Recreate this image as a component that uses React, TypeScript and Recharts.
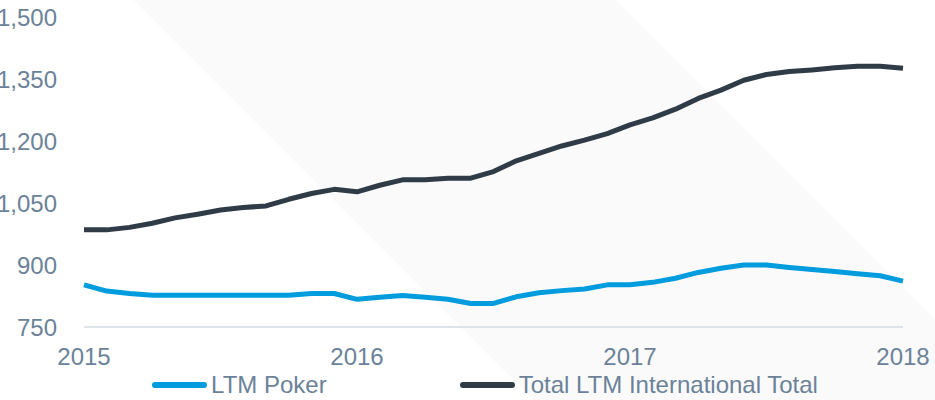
import React from 'react';
import { LineChart, Line, XAxis, YAxis, Legend } from 'recharts';

const MONTHS = [
  '2015-01', '2015-02', '2015-03', '2015-04', '2015-05', '2015-06', '2015-07', '2015-08', '2015-09', '2015-10', '2015-11', '2015-12',
  '2016-01', '2016-02', '2016-03', '2016-04', '2016-05', '2016-06', '2016-07', '2016-08', '2016-09', '2016-10', '2016-11', '2016-12',
  '2017-01', '2017-02', '2017-03', '2017-04', '2017-05', '2017-06', '2017-07', '2017-08', '2017-09', '2017-10', '2017-11', '2017-12',
  '2018-01',
];

const LTM_POKER = [
  852, 837, 831, 827, 827, 827, 827, 827, 827, 827, 831, 831,
  817, 822, 826, 822, 817, 807, 807, 823, 833, 838, 842, 852,
  852, 858, 868, 882, 892, 900, 900, 894, 889, 884, 879, 874,
  861,
];

const TOTAL_INTL = [
  985, 985, 991, 1001, 1014, 1023, 1033, 1039, 1043, 1059, 1073, 1083,
  1077, 1093, 1106, 1106, 1110, 1110, 1126, 1152, 1170, 1188, 1202, 1218,
  1239, 1256, 1277, 1303, 1323, 1347, 1361, 1368, 1372, 1377, 1381, 1381,
  1376,
];

const X_TICKS = ['2015-01', '2016-01', '2017-01', '2018-01'];
const Y_TICKS = [750, 900, 1050, 1200, 1350, 1500];

const SERIES = [
  { key: 'poker', name: 'LTM Poker', color: '#009cde' },
  { key: 'total', name: 'Total LTM International Total', color: '#2f3c48' },
];

const data = MONTHS.map((m, i) => ({ month: m, poker: LTM_POKER[i], total: TOTAL_INTL[i] }));

const FONT = '"Liberation Sans", Arial, sans-serif';
const TEXT = '#6b8299';

const renderLegend = () => (
  <div
    style={{
      display: 'flex',
      justifyContent: 'center',
      alignItems: 'center',
      height: 28,
      paddingLeft: 34,
      gap: 132,
      fontFamily: FONT,
      fontSize: 24,
      color: TEXT,
      whiteSpace: 'nowrap',
    }}
  >
    {SERIES.map((s) => (
      <div key={s.key} style={{ display: 'flex', alignItems: 'center' }}>
        <svg width={57} height={10}>
          <line x1={4} x2={53} y1={5} y2={5} stroke={s.color} strokeWidth={6} strokeLinecap="round" />
        </svg>
        <span style={{ marginLeft: 3 }}>{s.name}</span>
      </div>
    ))}
  </div>
);

export default function App() {
  return (
    <div
      style={{
        position: 'absolute',
        left: 0,
        top: 0,
        width: 935,
        height: 400,
        overflow: 'hidden',
        background:
          'linear-gradient(45deg, #ffffff 377px, #fafafa 377px, #fafafa 718px, #ffffff 718px)',
      }}
    >
      <LineChart width={935} height={400} data={data} margin={{ top: 17, right: 32, bottom: 1, left: 0 }}>
        <XAxis
          dataKey="month"
          ticks={X_TICKS}
          tickFormatter={(v: string) => v.slice(0, 4)}
          interval={0}
          height={44}
          tickSize={0}
          tickMargin={21}
          axisLine={{ stroke: '#dde3e8', strokeWidth: 2 }}
          tickLine={false}
          tick={{ fill: TEXT, fontSize: 24, fontFamily: FONT }}
        />
        <YAxis
          domain={[750, 1500]}
          ticks={Y_TICKS}
          width={84}
          tickSize={0}
          tickMargin={27}
          axisLine={false}
          tickLine={false}
          tickFormatter={(v: number) => v.toLocaleString('en-US')}
          tick={{ fill: TEXT, fontSize: 24, fontFamily: FONT }}
        />
        <Legend
          verticalAlign="bottom"
          content={renderLegend}
          wrapperStyle={{ left: 0, width: 935 }}
        />
        {SERIES.map((s) => (
          <Line
            key={s.key}
            type="linear"
            dataKey={s.key}
            name={s.name}
            stroke={s.color}
            strokeWidth={5}
            strokeLinejoin="round"
            dot={false}
            activeDot={false}
            isAnimationActive={false}
          />
        ))}
      </LineChart>
    </div>
  );
}
